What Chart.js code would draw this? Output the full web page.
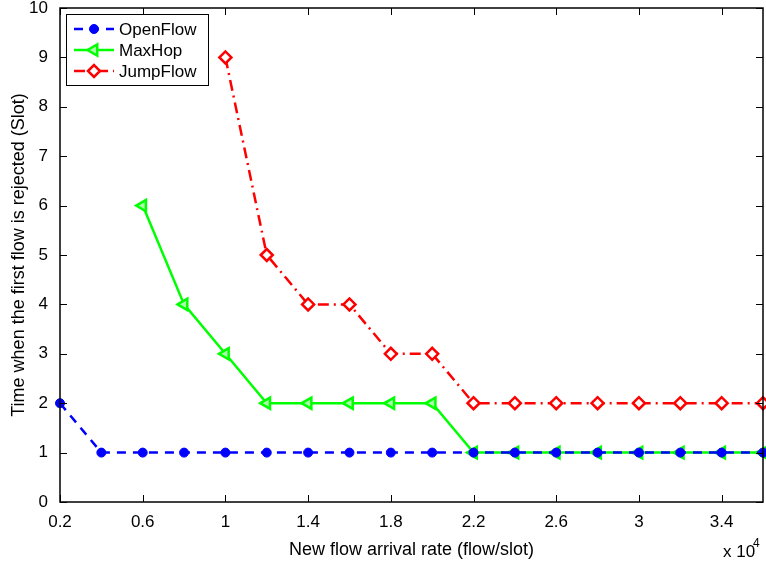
<!DOCTYPE html>
<html>
<head>
<meta charset="utf-8">
<script src="https://cdn.jsdelivr.net/npm/chart.js@4.4.0/dist/chart.umd.min.js"></script>
<style>
  body { margin: 0; background: #fff; }
  #wrap { width: 766px; height: 561px; }
</style>
</head>
<body>
<div id="wrap"><canvas id="myChart" width="766" height="561"></canvas></div>
<script>
// flow arrival rate (x 10^4)
var rates = [0.2, 0.4, 0.6, 0.8, 1.0, 1.2, 1.4, 1.6, 1.8, 2.0, 2.2, 2.4, 2.6, 2.8, 3.0, 3.2, 3.4, 3.6];
var openFlow = [2, 1, 1, 1, 1, 1, 1, 1, 1, 1, 1, 1, 1, 1, 1, 1, 1, 1];
var maxHop   = [null, null, 6, 4, 3, 2, 2, 2, 2, 2, 1, 1, 1, 1, 1, 1, 1, 1];
var jumpFlow = [null, null, null, null, 9, 5, 4, 4, 3, 3, 2, 2, 2, 2, 2, 2, 2, 2];
var xTicks = [0.2, 0.6, 1, 1.4, 1.8, 2.2, 2.6, 3, 3.4];
var yTicks = [0, 1, 2, 3, 4, 5, 6, 7, 8, 9, 10];

function pts(values) {
    return rates.map(function (r, i) { return { x: r, y: values[i] }; });
}

var FONT = "'Liberation Sans', Arial, sans-serif";

var matlabBox = {
    id: 'matlabBox',
    afterDraw: function (chart) {
        var ctx = chart.ctx, a = chart.chartArea;
        var xs = chart.scales.x, ys = chart.scales.y;
        ctx.save();
        ctx.strokeStyle = '#000';
        ctx.lineWidth = 1;
        ctx.beginPath();
        xTicks.forEach(function (t) {
            var px = Math.round(xs.getPixelForValue(t)) + 0.5;
            ctx.moveTo(px, a.bottom); ctx.lineTo(px, a.bottom - 7);
            ctx.moveTo(px, a.top); ctx.lineTo(px, a.top + 7);
        });
        yTicks.forEach(function (t) {
            var py = Math.round(ys.getPixelForValue(t)) + 0.5;
            ctx.moveTo(a.left, py); ctx.lineTo(a.left + 7, py);
            ctx.moveTo(a.right, py); ctx.lineTo(a.right - 7, py);
        });
        ctx.stroke();
        ctx.lineWidth = 1.5;
        ctx.strokeRect(a.left, a.top, a.right - a.left, a.bottom - a.top);

        // exponent label
        ctx.fillStyle = '#000';
        ctx.textBaseline = 'alphabetic';
        ctx.textAlign = 'left';
        ctx.font = '17px ' + FONT;
        ctx.fillText('x 10', 723, 557);
        ctx.font = '12px ' + FONT;
        ctx.fillText('4', 753, 547);

        // legend
        var lx = 66, ly = 14, lw = 142, lh = 71;
        ctx.fillStyle = '#fff';
        ctx.fillRect(lx, ly, lw, lh);
        ctx.lineWidth = 1;
        ctx.strokeStyle = '#000';
        ctx.strokeRect(lx + 0.5, ly + 0.5, lw, lh);
        chart.data.datasets.forEach(function (ds, i) {
            var cy = ly + 15 + i * 21;
            ctx.save();
            ctx.strokeStyle = ds.borderColor;
            ctx.lineWidth = ds.borderWidth;
            ctx.setLineDash(ds.borderDash || []);
            ctx.beginPath();
            ctx.moveTo(lx + 8, cy); ctx.lineTo(lx + 48, cy);
            ctx.stroke();
            ctx.setLineDash([]);
            ctx.fillStyle = ds.pointBackgroundColor;
            ctx.strokeStyle = ds.pointBorderColor;
            ctx.lineWidth = ds.pointBorderWidth;
            Chart.helpers.drawPoint(ctx, {
                pointStyle: ds.pointStyle, rotation: ds.pointRotation || 0,
                radius: ds.pointRadius, borderWidth: ds.pointBorderWidth
            }, lx + 28, cy);
            ctx.restore();
            ctx.fillStyle = '#000';
            ctx.font = '17px ' + FONT;
            ctx.textBaseline = 'middle';
            ctx.fillText(ds.label, lx + 53, cy + 1);
        });
        ctx.restore();
    }
};

var ctxP = document.getElementById('myChart').getContext('2d');
var myChart = new Chart(ctxP, {
    type: 'line',
    data: {
        datasets: [{
            label: 'OpenFlow',
            data: pts(openFlow),
            borderColor: 'rgb(0,0,255)',
            borderWidth: 2.5,
            borderDash: [9, 7],
            pointStyle: 'circle',
            pointRadius: 4.5,
            pointBackgroundColor: 'rgb(0,0,255)',
            pointBorderColor: 'rgb(0,0,255)',
            pointBorderWidth: 1
        }, {
            label: 'MaxHop',
            data: pts(maxHop),
            borderColor: 'rgb(0,255,0)',
            borderWidth: 2.5,
            pointStyle: 'triangle',
            pointRotation: -90,
            pointRadius: 6.5,
            pointBackgroundColor: 'rgb(170,255,170)',
            pointBorderColor: 'rgb(0,255,0)',
            pointBorderWidth: 2.5
        }, {
            label: 'JumpFlow',
            data: pts(jumpFlow),
            borderColor: 'rgb(255,0,0)',
            borderWidth: 2.5,
            borderDash: [11, 5, 2, 5],
            pointStyle: 'rectRot',
            pointRadius: 6,
            pointBackgroundColor: '#fff',
            pointBorderColor: 'rgb(255,0,0)',
            pointBorderWidth: 2.5
        }]
    },
    options: {
        responsive: false,
        animation: false,
        spanGaps: false,
        clip: false,
        layout: { autoPadding: false, padding: { top: 8, right: 3, left: 0, bottom: 0 } },
        plugins: {
            legend: { display: false },
            tooltip: { enabled: false }
        },
        scales: {
            x: {
                type: 'linear',
                min: 0.2,
                max: 3.6,
                afterBuildTicks: function (s) { s.ticks = xTicks.map(function (v) { return { value: v }; }); },
                afterFit: function (s) { s.height = 59; s.paddingLeft = 0; s.paddingRight = 0; },
                grid: { display: false },
                border: { display: false },
                ticks: {
                    color: '#000',
                    font: { family: FONT, size: 17 },
                    padding: 2,
                    maxRotation: 0,
                    callback: function (v) { return String(Math.round(v * 10) / 10); }
                },
                title: {
                    display: true,
                    text: 'New flow arrival rate (flow/slot)',
                    color: '#000',
                    font: { family: FONT, size: 18 },
                    padding: { top: 0, bottom: 0 }
                }
            },
            y: {
                min: 0,
                max: 10,
                afterBuildTicks: function (s) { s.ticks = yTicks.map(function (v) { return { value: v }; }); },
                afterFit: function (s) { s.width = 60; s.paddingTop = 0; s.paddingBottom = 0; },
                grid: { display: false },
                border: { display: false },
                ticks: {
                    color: '#000',
                    font: { family: FONT, size: 17 },
                    padding: 4
                },
                title: {
                    display: true,
                    text: 'Time when the first flow is rejected (Slot)',
                    color: '#000',
                    font: { family: FONT, size: 18 },
                    padding: { top: 8, bottom: 0 }
                }
            }
        }
    },
    plugins: [matlabBox]
});
</script>
</body>
</html>
